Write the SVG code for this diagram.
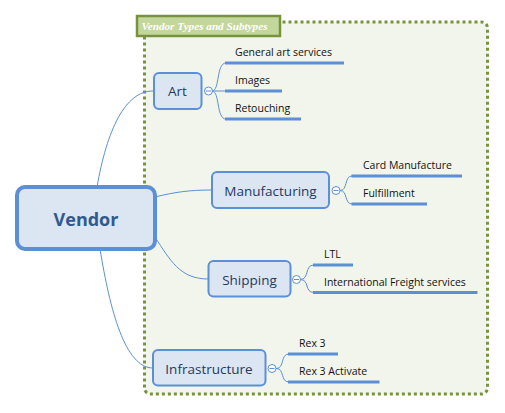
<svg xmlns="http://www.w3.org/2000/svg" width="505" height="413" viewBox="0 0 505 413">
<style>
.node rect{fill:#dce6f2;stroke:#5b8fd6;stroke-width:2}
.node text{font-family:"Open Sans","Noto Sans",sans-serif;font-size:13.5px;fill:#1f3864;text-anchor:middle}
.sub text{font-family:"Open Sans","Noto Sans",sans-serif;font-size:10.5px;fill:#111}
.ul{stroke:#5b8fd6;stroke-width:3;fill:none}
.conn path{fill:none;stroke:#5b8fd6;stroke-width:1}
.tog{fill:#fff;stroke:#5b8fd6;stroke-width:1}
.tog-l{stroke:#5b8fd6;stroke-width:1}
</style>
<rect width="505" height="413" fill="#ffffff"/>
<g id="boundary">
<rect x="144.5" y="22" width="343" height="372" rx="6" fill="#f2f5eb" stroke="#77933c" stroke-width="3" stroke-dasharray="3,3"/>
<rect x="137" y="16" width="143" height="20" fill="#c3d69b" stroke="#77933c" stroke-width="2.5"/>
<text x="141.5" y="29.5" font-family="Liberation Serif,serif" font-style="italic" font-weight="bold" font-size="11" fill="#ffffff" textLength="126" lengthAdjust="spacingAndGlyphs">Vendor Types and Subtypes</text>
</g>
<g id="connectors" class="conn">
<path d="M97,187 C107,130 125,91 153,91"/>
<path d="M155,197 C175,192 190,190 212,190"/>
<path d="M155,237 C170,260 180,279 208,279"/>
<path d="M100,249 C110,310 125,368 153,368"/>
<path d="M212,91 C220,91 216,63 226,63"/>
<path d="M212,91 L226,91"/>
<path d="M212,91 C220,91 216,119 226,119"/>
<path d="M340,190.5 C348,190.5 344,176 352,176"/>
<path d="M340,190.5 C348,190.5 344,204 352,204"/>
<path d="M300,279.5 C310,279.5 304,265 314,265"/>
<path d="M300,279.5 C310,279.5 304,292.5 314,292.5"/>
<path d="M276,368.5 C285,368.5 280,354 289,354"/>
<path d="M276,368.5 C285,368.5 280,382 289,382"/>
</g>
<g id="vendor" class="node">
<rect x="17" y="187" width="138" height="62" rx="8" style="stroke-width:4"/>
<text x="86" y="225.5" style="font-size:18px;font-weight:bold;fill:#2f5a8f">Vendor</text>
</g>
<g id="art" class="node">
<rect x="154" y="73" width="47.5" height="36" rx="5"/>
<text x="177.5" y="96">Art</text>
<circle class="tog" cx="208.5" cy="91" r="4"/>
<line class="tog-l" x1="206" y1="91" x2="211" y2="91"/>
</g>
<g id="manufacturing" class="node">
<rect x="212" y="172" width="117" height="36" rx="5"/>
<text x="270.5" y="196">Manufacturing</text>
<circle class="tog" cx="336" cy="190.5" r="4"/>
<line class="tog-l" x1="333.5" y1="190.5" x2="338.5" y2="190.5"/>
</g>
<g id="shipping" class="node">
<rect x="208.5" y="261" width="82" height="35.5" rx="5"/>
<text x="249.5" y="285">Shipping</text>
<circle class="tog" cx="296.5" cy="279.5" r="4"/>
<line class="tog-l" x1="294" y1="279.5" x2="299" y2="279.5"/>
</g>
<g id="infrastructure" class="node">
<rect x="153" y="350" width="112.5" height="35.5" rx="5"/>
<text x="209" y="374">Infrastructure</text>
<circle class="tog" cx="272" cy="368.5" r="4"/>
<line class="tog-l" x1="269.5" y1="368.5" x2="274.5" y2="368.5"/>
</g>
<g id="general-art-services" class="sub"><text x="235" y="56">General art services</text><line class="ul" x1="225" y1="63" x2="344" y2="63"/></g>
<g id="images" class="sub"><text x="235" y="84">Images</text><line class="ul" x1="225" y1="91" x2="282" y2="91"/></g>
<g id="retouching" class="sub"><text x="235" y="112">Retouching</text><line class="ul" x1="225" y1="119" x2="301" y2="119"/></g>
<g id="card-manufacture" class="sub"><text x="363" y="169">Card Manufacture</text><line class="ul" x1="351.5" y1="176" x2="462" y2="176"/></g>
<g id="fulfillment" class="sub"><text x="363" y="197">Fulfillment</text><line class="ul" x1="351.5" y1="204" x2="427" y2="204"/></g>
<g id="ltl" class="sub"><text x="324" y="258">LTL</text><line class="ul" x1="313" y1="265" x2="353" y2="265"/></g>
<g id="intl-freight" class="sub"><text x="324" y="286">International Freight services</text><line class="ul" x1="313" y1="292.5" x2="477.5" y2="292.5"/></g>
<g id="rex3" class="sub"><text x="299" y="347">Rex 3</text><line class="ul" x1="288" y1="354" x2="338" y2="354"/></g>
<g id="rex3-activate" class="sub"><text x="299" y="375">Rex 3 Activate</text><line class="ul" x1="288" y1="382" x2="379.5" y2="382"/></g>
</svg>
